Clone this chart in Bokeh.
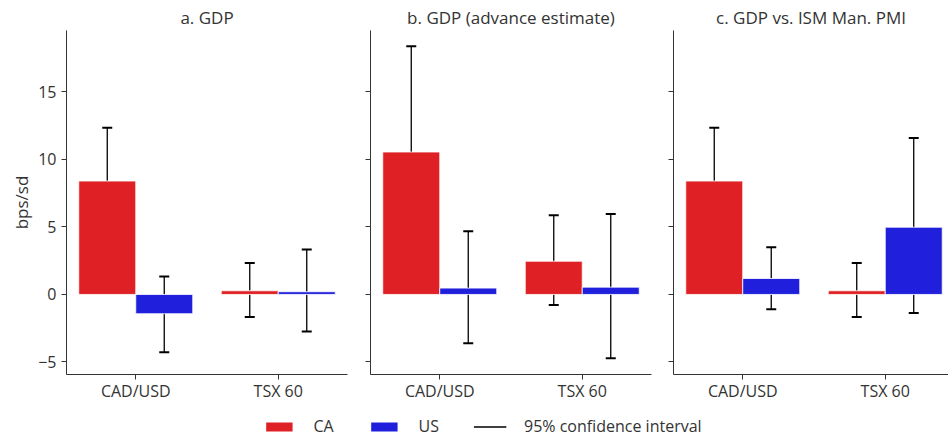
from bokeh.plotting import figure
from bokeh.layouts import row, column
from bokeh.models import (Range1d, FixedTicker, Whisker, TeeHead, ColumnDataSource,
                          Legend, LegendItem)
from bokeh.transform import dodge
from bokeh.embed import file_html
from bokeh.resources import INLINE

# ---------------- data ----------------
categories = ["CAD/USD", "TSX 60"]
panel_titles = ["a. GDP", "b. GDP (advance estimate)", "c. GDP vs. ISM Man. PMI"]
y_ticks = [-5, 0, 5, 10, 15]

a_ca = [8.40, 0.27]
a_ca_lo = [4.59, -1.68]
a_ca_hi = [12.35, 2.32]
a_us = [-1.43, 0.20]
a_us_lo = [-4.29, -2.74]
a_us_hi = [1.33, 3.33]

b_ca = [10.55, 2.46]
b_ca_lo = [2.81, -0.79]
b_ca_hi = [18.39, 5.87]
b_us = [0.47, 0.54]
b_us_lo = [-3.62, -4.73]
b_us_hi = [4.68, 5.96]

c_ca = [8.40, 0.27]
c_ca_lo = [4.59, -1.68]
c_ca_hi = [12.35, 2.32]
c_us = [1.18, 4.98]
c_us_lo = [-1.09, -1.38]
c_us_hi = [3.50, 11.58]

# ---------------- style ----------------
FONT = "Open Sans"
RED = "#DF2125"
BLUE = "#2020DC"
TXT = "#333333"
AX = "#333333"
H = 410
Y0, Y1 = -5.93, 19.55
X0 = 0.514


def make_panel(title, ca, ca_lo, ca_hi, us, us_lo, us_hi, width, left, right, x_end, first):
    p = figure(width=width, height=H, x_range=Range1d(X0, x_end), y_range=Range1d(Y0, Y1),
               output_backend="svg", toolbar_location=None,
               min_border_left=left, min_border_right=right, min_border_top=30,
               min_border_bottom=36)
    p.title.text = title
    p.title.align = "center"
    p.title.text_font = FONT
    p.title.text_font_size = "17px"
    p.title.text_font_style = "normal"
    p.title.text_color = TXT
    p.title.standoff = 4
    p.outline_line_color = None
    p.grid.visible = False
    p.background_fill_color = "white"

    src = ColumnDataSource(dict(
        x=[i + 1 for i in range(len(categories))],
        ca=ca, ca_lo=ca_lo, ca_hi=ca_hi,
        us=us, us_lo=us_lo, us_hi=us_hi,
    ))
    p.vbar(x=dodge("x", -0.2), top="ca", bottom=0, width=0.4, source=src,
           fill_color=RED, line_color="white", line_width=0.8)
    p.vbar(x=dodge("x", 0.2), top="us", bottom=0, width=0.4, source=src,
           fill_color=BLUE, line_color="white", line_width=0.8)
    for off, lo, hi in [(-0.2, "ca_lo", "ca_hi"), (0.2, "us_lo", "us_hi")]:
        w = Whisker(base=dodge("x", off), lower=lo, upper=hi, source=src,
                    line_color="black", line_width=1.3,
                    upper_head=TeeHead(size=10, line_width=2, line_color="black"),
                    lower_head=TeeHead(size=10, line_width=2, line_color="black"))
        p.add_layout(w)

    for ax in (p.xaxis[0], p.yaxis[0]):
        ax.axis_line_color = AX
        ax.axis_line_width = 1
        ax.major_tick_line_color = AX
        ax.major_tick_in = 0
        ax.major_tick_out = 5
        ax.minor_tick_line_color = None
        ax.major_label_text_font = FONT
        ax.major_label_text_font_size = "16px"
        ax.major_label_text_color = TXT
    p.xaxis.major_label_standoff = 0
    p.xaxis.ticker = FixedTicker(ticks=[i + 1 for i in range(len(categories))])
    p.xaxis.major_label_overrides = {i + 1: c for i, c in enumerate(categories)}
    p.yaxis.ticker = FixedTicker(ticks=y_ticks)
    if first:
        p.yaxis.major_label_overrides = {t: (str(t).replace("-", "\u2212")) for t in y_ticks}
        p.yaxis.axis_label = "bps/sd"
        p.yaxis.axis_label_text_font = FONT
        p.yaxis.axis_label_text_font_size = "17px"
        p.yaxis.axis_label_text_font_style = "normal"
        p.yaxis.axis_label_text_color = TXT
        p.yaxis.axis_label_standoff = 2
    else:
        p.yaxis.major_label_overrides = {t: "" for t in y_ticks}
    return p


p1 = make_panel(panel_titles[0], a_ca, a_ca_lo, a_ca_hi, a_us, a_us_lo, a_us_hi,
                358, 66, 11, 2.486, True)
p2 = make_panel(panel_titles[1], b_ca, b_ca_lo, b_ca_hi, b_us, b_us_lo, b_us_hi,
                302, 12, 9, 2.486, False)
p3 = make_panel(panel_titles[2], c_ca, c_ca_lo, c_ca_hi, c_us, c_us_lo, c_us_hi,
                288, 13, 0, 2.444, False)

# ---------------- legend ----------------
lg = figure(width=948, height=32, output_backend="svg", toolbar_location=None,
            x_axis_location=None, y_axis_location=None, min_border=0,
            min_border_left=16, x_range=Range1d(0, 1), y_range=Range1d(0, 1))
lg.outline_line_color = None
lg.grid.visible = False
# legend-only renderers (zero-size, nothing visible on the canvas)
r_ca = lg.vbar(x=[0.5], top=[0], bottom=[0], width=0, fill_color=RED, line_color=None)
r_us = lg.vbar(x=[0.5], top=[0], bottom=[0], width=0, fill_color=BLUE, line_color=None)
r_ci = lg.line(x=[-10, -9], y=[-10, -10], line_color="black", line_width=1.5)
legend = Legend(items=[LegendItem(label="CA", renderers=[r_ca]),
                       LegendItem(label="US", renderers=[r_us]),
                       LegendItem(label="95% confidence interval", renderers=[r_ci])],
                orientation="horizontal", location="center",
                glyph_width=33, glyph_height=11, label_standoff=18, spacing=34,
                padding=0, margin=0, border_line_color=None, background_fill_alpha=0,
                label_text_font=FONT, label_text_font_size="16px", label_text_color=TXT)
lg.add_layout(legend, "center")

layout = column(row(p1, p2, p3), lg)
open("out.html", "w").write(file_html(layout, INLINE))
